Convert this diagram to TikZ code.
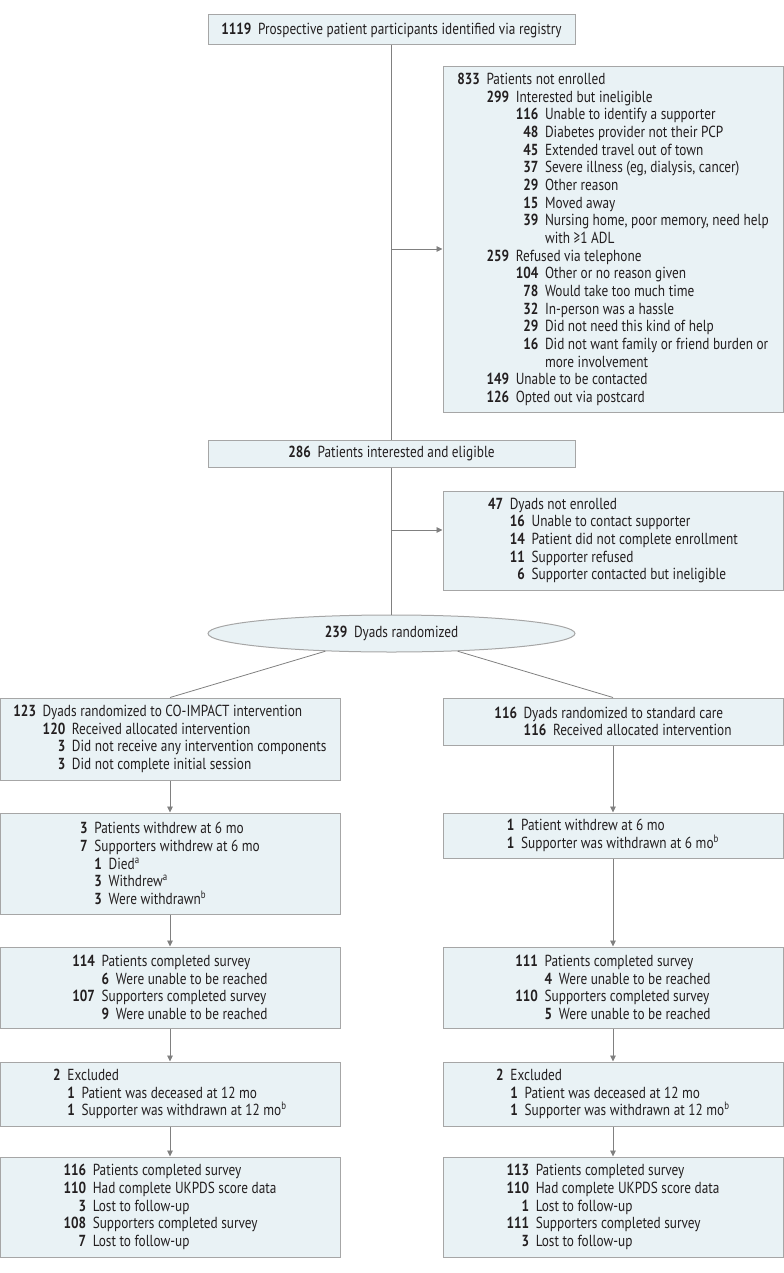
\documentclass[tikz,border=0pt]{standalone}
\usepackage{fontspec}
\setmainfont{PT Sans}[FakeStretch=0.83]
\usetikzlibrary{shapes, arrows.meta, positioning, calc}

\definecolor{boxfill}{HTML}{E9F2F5}
\definecolor{boxline}{HTML}{A6A6A6}
\definecolor{flowline}{HTML}{808080}
\definecolor{ink}{HTML}{231F20}

\newlength{\gapw}\setlength{\gapw}{5pt}
% number column as wide as #1, number #2 set flush right
\newcommand{\nm}[2]{\hphantom{\textbf{#1}}\llap{\textbf{#2}}\hspace*{\gapw}}
% empty column of the same width
\newcommand{\ind}[1]{\hphantom{\textbf{#1}}\hspace*{\gapw}}

\tikzset{
	flow/.style={draw=boxline, fill=boxfill, line width=0.75pt, align=left, inner sep=0pt,
		text=ink, font=\fontsize{12}{13.25}\selectfont},
	wide/.style={minimum width=275.25pt},
	side/.style={minimum width=255pt},
	link/.style={draw=flowline, line width=0.6pt},
	arr/.style={link, -{Triangle[length=4.5pt,width=4.2pt]}},
}

\begin{document}
\begin{tikzpicture}[x=0.75pt, y=-0.75pt]
	\useasboundingbox (0,0) rectangle (783,1273);

	% screening
	\node[flow, wide, minimum height=22.5pt] (reg) at (391.5,30)
		{\nm{1119}{1119}Prospective patient participants identified via registry};
	\node[flow, side, minimum height=258.75pt] (notenr) at (613,239.5)
		{\nm{000}{833}Patients not enrolled\\
		\ind{000}\nm{000}{299}Interested but ineligible\\
		\ind{000}\ind{000}\nm{000}{116}Unable to identify a supporter\\
		\ind{000}\ind{000}\nm{000}{48}Diabetes provider not their PCP\\
		\ind{000}\ind{000}\nm{000}{45}Extended travel out of town\\
		\ind{000}\ind{000}\nm{000}{37}Severe illness (eg, dialysis, cancer)\\
		\ind{000}\ind{000}\nm{000}{29}Other reason\\
		\ind{000}\ind{000}\nm{000}{15}Moved away\\
		\ind{000}\ind{000}\nm{000}{39}Nursing home, poor memory, need help\\
		\ind{000}\ind{000}\ind{000}with ≥1 ADL\\
		\ind{000}\nm{000}{259}Refused via telephone\\
		\ind{000}\ind{000}\nm{000}{104}Other or no reason given\\
		\ind{000}\ind{000}\nm{000}{78}Would take too much time\\
		\ind{000}\ind{000}\nm{000}{32}In-person was a hassle\\
		\ind{000}\ind{000}\nm{000}{29}Did not need this kind of help\\
		\ind{000}\ind{000}\nm{000}{16}Did not want family or friend burden or\\
		\ind{000}\ind{000}\ind{000}more involvement\\
		\ind{000}\nm{000}{149}Unable to be contacted\\
		\ind{000}\nm{000}{126}Opted out via postcard};
	\node[flow, wide, minimum height=20.25pt] (elig) at (391.5,453.5)
		{\nm{286}{286}Patients interested and eligible};
	\node[flow, side, minimum height=74.25pt] (dyad) at (613,540.5)
		{\nm{00}{47}Dyads not enrolled\\
		\ind{00}\nm{00}{16}Unable to contact supporter\\
		\ind{00}\nm{00}{14}Patient did not complete enrollment\\
		\ind{00}\nm{00}{11}Supporter refused\\
		\ind{00}\nm{00}{6}Supporter contacted but ineligible};
	\node[flow, ellipse, wide, minimum height=27.75pt] (rand) at (391.5,633.5)
		{\nm{239}{239}Dyads randomized};

	% CO-IMPACT arm
	\node[flow, side, minimum height=61.5pt] (armA) at (170,739)
		{\nm{000}{123}Dyads randomized to CO-IMPACT intervention\\
		\ind{000}\nm{000}{120}Received allocated intervention\\
		\ind{000}\nm{000}{3}Did not receive any intervention components\\
		\ind{000}\nm{000}{3}Did not complete initial session};
	\node[flow, side, minimum height=75.75pt] (wdA) at (170,863.5)
		{\nm{0}{3}Patients withdrew at 6 mo\\
		\nm{0}{7}Supporters withdrew at 6 mo\\
		\ind{0}\nm{0}{1}Died\textsuperscript{a}\\
		\ind{0}\nm{0}{3}Withdrew\textsuperscript{a}\\
		\ind{0}\nm{0}{3}Were withdrawn\textsuperscript{b}};
	\node[flow, side, minimum height=60.75pt] (svA) at (170,987.5)
		{\nm{000}{114}Patients completed survey\\
		\ind{000}\nm{0}{6}Were unable to be reached\\
		\nm{000}{107}Supporters completed survey\\
		\ind{000}\nm{0}{9}Were unable to be reached};
	\node[flow, side, minimum height=48pt] (exA) at (170,1094)
		{\nm{0}{2}Excluded\\
		\ind{0}\nm{0}{1}Patient was deceased at 12 mo\\
		\ind{0}\nm{0}{1}Supporter was withdrawn at 12 mo\textsuperscript{b}};
	\node[flow, side, minimum height=75pt] (finA) at (170,1207)
		{\nm{000}{116}Patients completed survey\\
		\nm{000}{110}Had complete UKPDS score data\\
		\nm{000}{3}Lost to follow-up\\
		\nm{000}{108}Supporters completed survey\\
		\nm{000}{7}Lost to follow-up};

	% standard care arm
	\node[flow, side, minimum height=35.25pt] (armB) at (613,721.5)
		{\nm{000}{116}Dyads randomized to standard care\\
		\ind{000}\nm{000}{116}Received allocated intervention};
	\node[flow, side, minimum height=33.75pt] (wdB) at (613,835.5)
		{\nm{0}{1}Patient withdrew at 6 mo\\
		\nm{0}{1}Supporter was withdrawn at 6 mo\textsuperscript{b}};
	\node[flow, side, minimum height=60.75pt] (svB) at (613,987.5)
		{\nm{000}{111}Patients completed survey\\
		\ind{000}\nm{0}{4}Were unable to be reached\\
		\nm{000}{110}Supporters completed survey\\
		\ind{000}\nm{0}{5}Were unable to be reached};
	\node[flow, side, minimum height=48pt] (exB) at (613,1094)
		{\nm{0}{2}Excluded\\
		\ind{0}\nm{0}{1}Patient was deceased at 12 mo\\
		\ind{0}\nm{0}{1}Supporter was withdrawn at 12 mo\textsuperscript{b}};
	\node[flow, side, minimum height=75pt] (finB) at (613,1207)
		{\nm{000}{113}Patients completed survey\\
		\nm{000}{110}Had complete UKPDS score data\\
		\nm{000}{1}Lost to follow-up\\
		\nm{000}{111}Supporters completed survey\\
		\nm{000}{3}Lost to follow-up};

	% connectors
	\draw[link] (reg) -- (elig);
	\draw[link] (elig) -- (rand);
	\coordinate (b1) at (391.5,249);
	\coordinate (b2) at (391.5,530);
	\draw[arr] (b1) -- (b1 -| notenr.west);
	\draw[arr] (b2) -- (b2 -| dyad.west);
	\draw[link] (rand.195) -- (armA.north);
	\draw[link] (rand.345) -- (armB.north);
	\foreach \from/\to in {armA/wdA,wdA/svA,svA/exA,exA/finA,armB/wdB,wdB/svB,svB/exB,exB/finB}
		\draw[arr] (\from) -- (\to);
\end{tikzpicture}
\end{document}
